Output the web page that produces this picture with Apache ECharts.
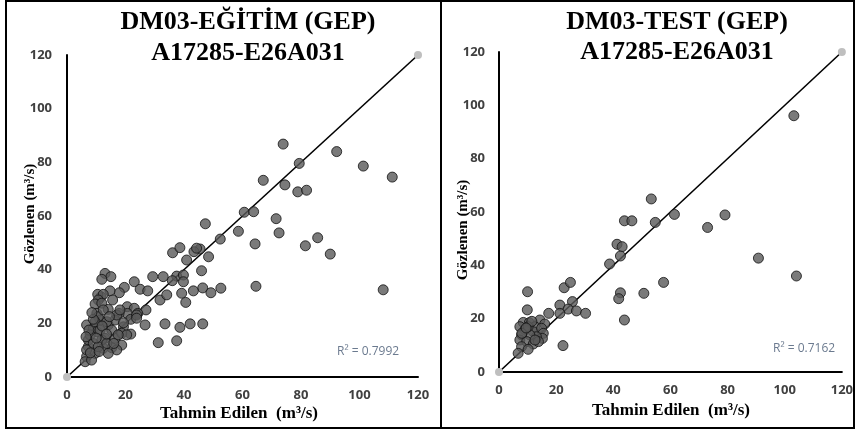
<!DOCTYPE html>
<html>
<head>
<meta charset="utf-8">
<script src="https://cdn.jsdelivr.net/npm/echarts@6/dist/echarts.min.js"></script>
<style>
html,body{margin:0;padding:0;background:#fff;}
#c{width:856px;height:430px;}
</style>
</head>
<body>
<div id="c"></div>
<script>
// ---- data ----
var trainPred = [73.9,92.2,79.4,101.3,111.2,67.1,74.5,78.9,81.9,60.6,63.8,71.5,58.6,72.5,47.3,52.4,64.3,85.7,81.5,90.0,48.4,46.0,46.4,49.2,52.6,64.6,108.1,46.4,45.5,36.1,38.6,43.4,44.3,40.9,29.3,32.9,37.5,39.8,36.0,39.8,23.0,25.0,27.6,31.8,34.1,39.2,40.6,43.2,19.6,17.9,14.7,13.0,15.0,11.9,11.6,10.5,12.4,10.7,9.6,11.9,15.6,20.6,23.0,27.0,24.2,20.6,17.8,14.1,10.2,11.3,6.7,9.0,14.1,16.4,19.3,21.8,23.8,26.7,33.5,38.6,42.1,31.2,37.5,21.8,18.7,15.3,12.4,9.6,6.7,6.2,8.4,13.0,16.4,18.7,10.2,11.9,7.3,7.3,9.0,6.7,10.7,13.6,15.3,13.6,11.3,7.9,10.7,12.4,17.0,18.1,9.6,17.0,14.1,20.4,17.5,19.3,23.8,8.0,11.0,7.5,12.0,16.0,10.0,13.5,9.0,6.5,8.5,14.5];
var trainObs  = [86.8,84.0,79.6,78.6,74.5,73.3,71.6,69.0,69.6,61.4,61.6,59.0,54.3,53.7,57.1,51.4,49.6,51.9,48.9,45.8,44.8,39.6,33.2,31.4,33.1,33.8,32.5,19.8,47.7,46.3,48.2,46.7,48.0,43.6,37.4,37.4,37.6,38.0,35.9,35.5,35.5,32.7,32.1,28.7,30.6,31.2,27.8,32.1,33.4,31.4,32.1,38.6,37.4,36.4,29.9,30.8,30.8,28.7,27.2,27.5,28.7,26.2,25.6,25.0,23.7,23.7,23.7,25.2,23.7,21.2,19.4,18.1,19.4,21.2,18.7,21.5,23.1,19.4,19.8,18.5,19.8,12.8,13.5,16.0,11.9,10.9,10.7,8.8,7.6,5.7,6.3,14.4,14.4,16.3,16.9,13.8,11.3,13.8,12.5,10.1,11.3,12.5,17.5,20.6,17.5,15.7,22.5,25.0,23.1,25.0,20.6,10.1,8.8,15.7,15.7,20.2,21.9,9.0,9.5,17.5,19.0,12.5,14.5,16.0,21.5,15.0,24.0,22.5];

var testPred = [103.2,53.3,61.4,79.1,43.9,46.5,54.7,73.0,41.3,43.1,42.5,38.7,90.8,104.1,57.6,42.5,41.9,50.7,43.9,10.0,9.9,22.8,25.0,21.3,25.7,24.2,21.3,27.1,30.3,17.4,22.4,14.3,16.0,8.5,10.6,12.6,7.3,9.1,12.0,14.9,15.5,15.2,13.1,10.8,7.9,7.3,9.7,12.0,13.8,7.9,10.2,6.7,10.2,12.6,8.0,11.5,9.5];
var testObs  = [96.1,64.9,59.1,58.9,56.7,56.7,56.1,54.2,47.9,47.0,43.5,40.5,42.7,36.0,33.6,29.7,27.5,29.5,19.5,30.1,23.3,31.6,33.6,25.1,26.4,23.6,22.0,22.9,22.0,22.0,9.9,19.5,18.0,18.6,18.5,17.0,17.0,15.8,15.1,16.4,14.5,12.6,13.2,13.9,13.9,12.0,11.4,10.5,11.4,9.5,8.5,7.0,17.0,12.0,14.5,19.0,16.5];

var diagLine = [[0,0],[120,120]];
var axisTicks = [0,20,40,60,80,100,120];
var r2Train = 'R² = 0.7992';
var r2Test  = 'R² = 0.7162';
var titles = [['DM03-EĞİTİM (GEP)','A17285-E26A031'],['DM03-TEST (GEP)','A17285-E26A031']];
var xName = 'Tahmin Edilen  (m³/s)';
var yName = 'Gözlenen (m³/s)';

function pairs(a,b){ return a.map(function(v,i){ return [v,b[i]]; }); }

var chart = echarts.init(document.getElementById('c'), null, {renderer:'canvas'});

var labelStyle = {fontFamily:'Open Sans', fontWeight:'bold', fontSize:13, color:'#404040'};
function xAxisDef(gi, margin){
  return {gridIndex:gi, type:'value', min:axisTicks[0], max:axisTicks[axisTicks.length-1], interval:20,
    axisLine:{onZero:false, lineStyle:{color:'#000', width:2}}, axisTick:{show:false}, splitLine:{show:false},
    axisLabel:Object.assign({margin:margin}, labelStyle)};
}
function yAxisDef(gi, margin){
  return {gridIndex:gi, type:'value', min:axisTicks[0], max:axisTicks[axisTicks.length-1], interval:20,
    axisLine:{show:true, onZero:false, lineStyle:{color:'#000', width:2}}, axisTick:{show:false}, splitLine:{show:false},
    axisLabel:Object.assign({margin:margin}, labelStyle)};
}
var dotStyle = {color:'#595959', borderColor:'#111', borderWidth:1};
var lineSeries = function(i){ return {type:'line', xAxisIndex:i, yAxisIndex:i, data:diagLine, clip:false, z:1,
  lineStyle:{color:'#000', width:1.6}, symbol:'circle', symbolSize:8, showSymbol:true,
  itemStyle:{color:'#bfbfbf', borderWidth:0}, emphasis:{disabled:true}, silent:true, animation:false}; };

function txt(x,y,text,font,color,rot,align){
  return {type:'text', x:x, y:y, rotation:rot||0, silent:true,
    style:{text:text, font:font, fill:color||'#000', align:align||'center', verticalAlign:'middle'}};
}
var tf = 'bold 26px "Liberation Serif"';
var af = 'bold 17px "Liberation Serif"';
var yf = 'bold 15px "Liberation Serif"';

chart.setOption({
  animation:false,
  backgroundColor:'#fff',
  grid:[
    {left:67, top:55, width:351, height:322},
    {left:499, top:52, width:344, height:320}
  ],
  xAxis:[xAxisDef(0,12), xAxisDef(1,12)],
  yAxis:[yAxisDef(0,15), yAxisDef(1,14)],
  series:[
    lineSeries(0),
    {type:'scatter', xAxisIndex:0, yAxisIndex:0, data:pairs(trainPred,trainObs), symbolSize:10, itemStyle:dotStyle, z:3},
    lineSeries(1),
    {type:'scatter', xAxisIndex:1, yAxisIndex:1, data:pairs(testPred,testObs), symbolSize:10, itemStyle:dotStyle, z:3}
  ],
  graphic:[
    {type:'rect', shape:{x:6, y:1, width:848, height:427}, style:{fill:null, stroke:'#000', lineWidth:2}, silent:true},
    {type:'line', shape:{x1:441, y1:1, x2:441, y2:428}, style:{stroke:'#000', lineWidth:2}, silent:true},
    txt(248,22,titles[0][0],tf),
    txt(248,53,titles[0][1],tf),
    txt(677,22,titles[1][0],tf),
    txt(677,52,titles[1][1],tf),
    txt(239,414,xName,af),
    txt(671,411,xName,af),
    txt(30,214,yName,yf,'#000',Math.PI/2),
    txt(463,230,yName,yf,'#000',Math.PI/2),
    txt(337,352,r2Train,'12px "Open Sans"','#6b7a8f',0,'left'),
    txt(773,349,r2Test,'12px "Open Sans"','#6b7a8f',0,'left')
  ]
});
</script>
</body>
</html>
